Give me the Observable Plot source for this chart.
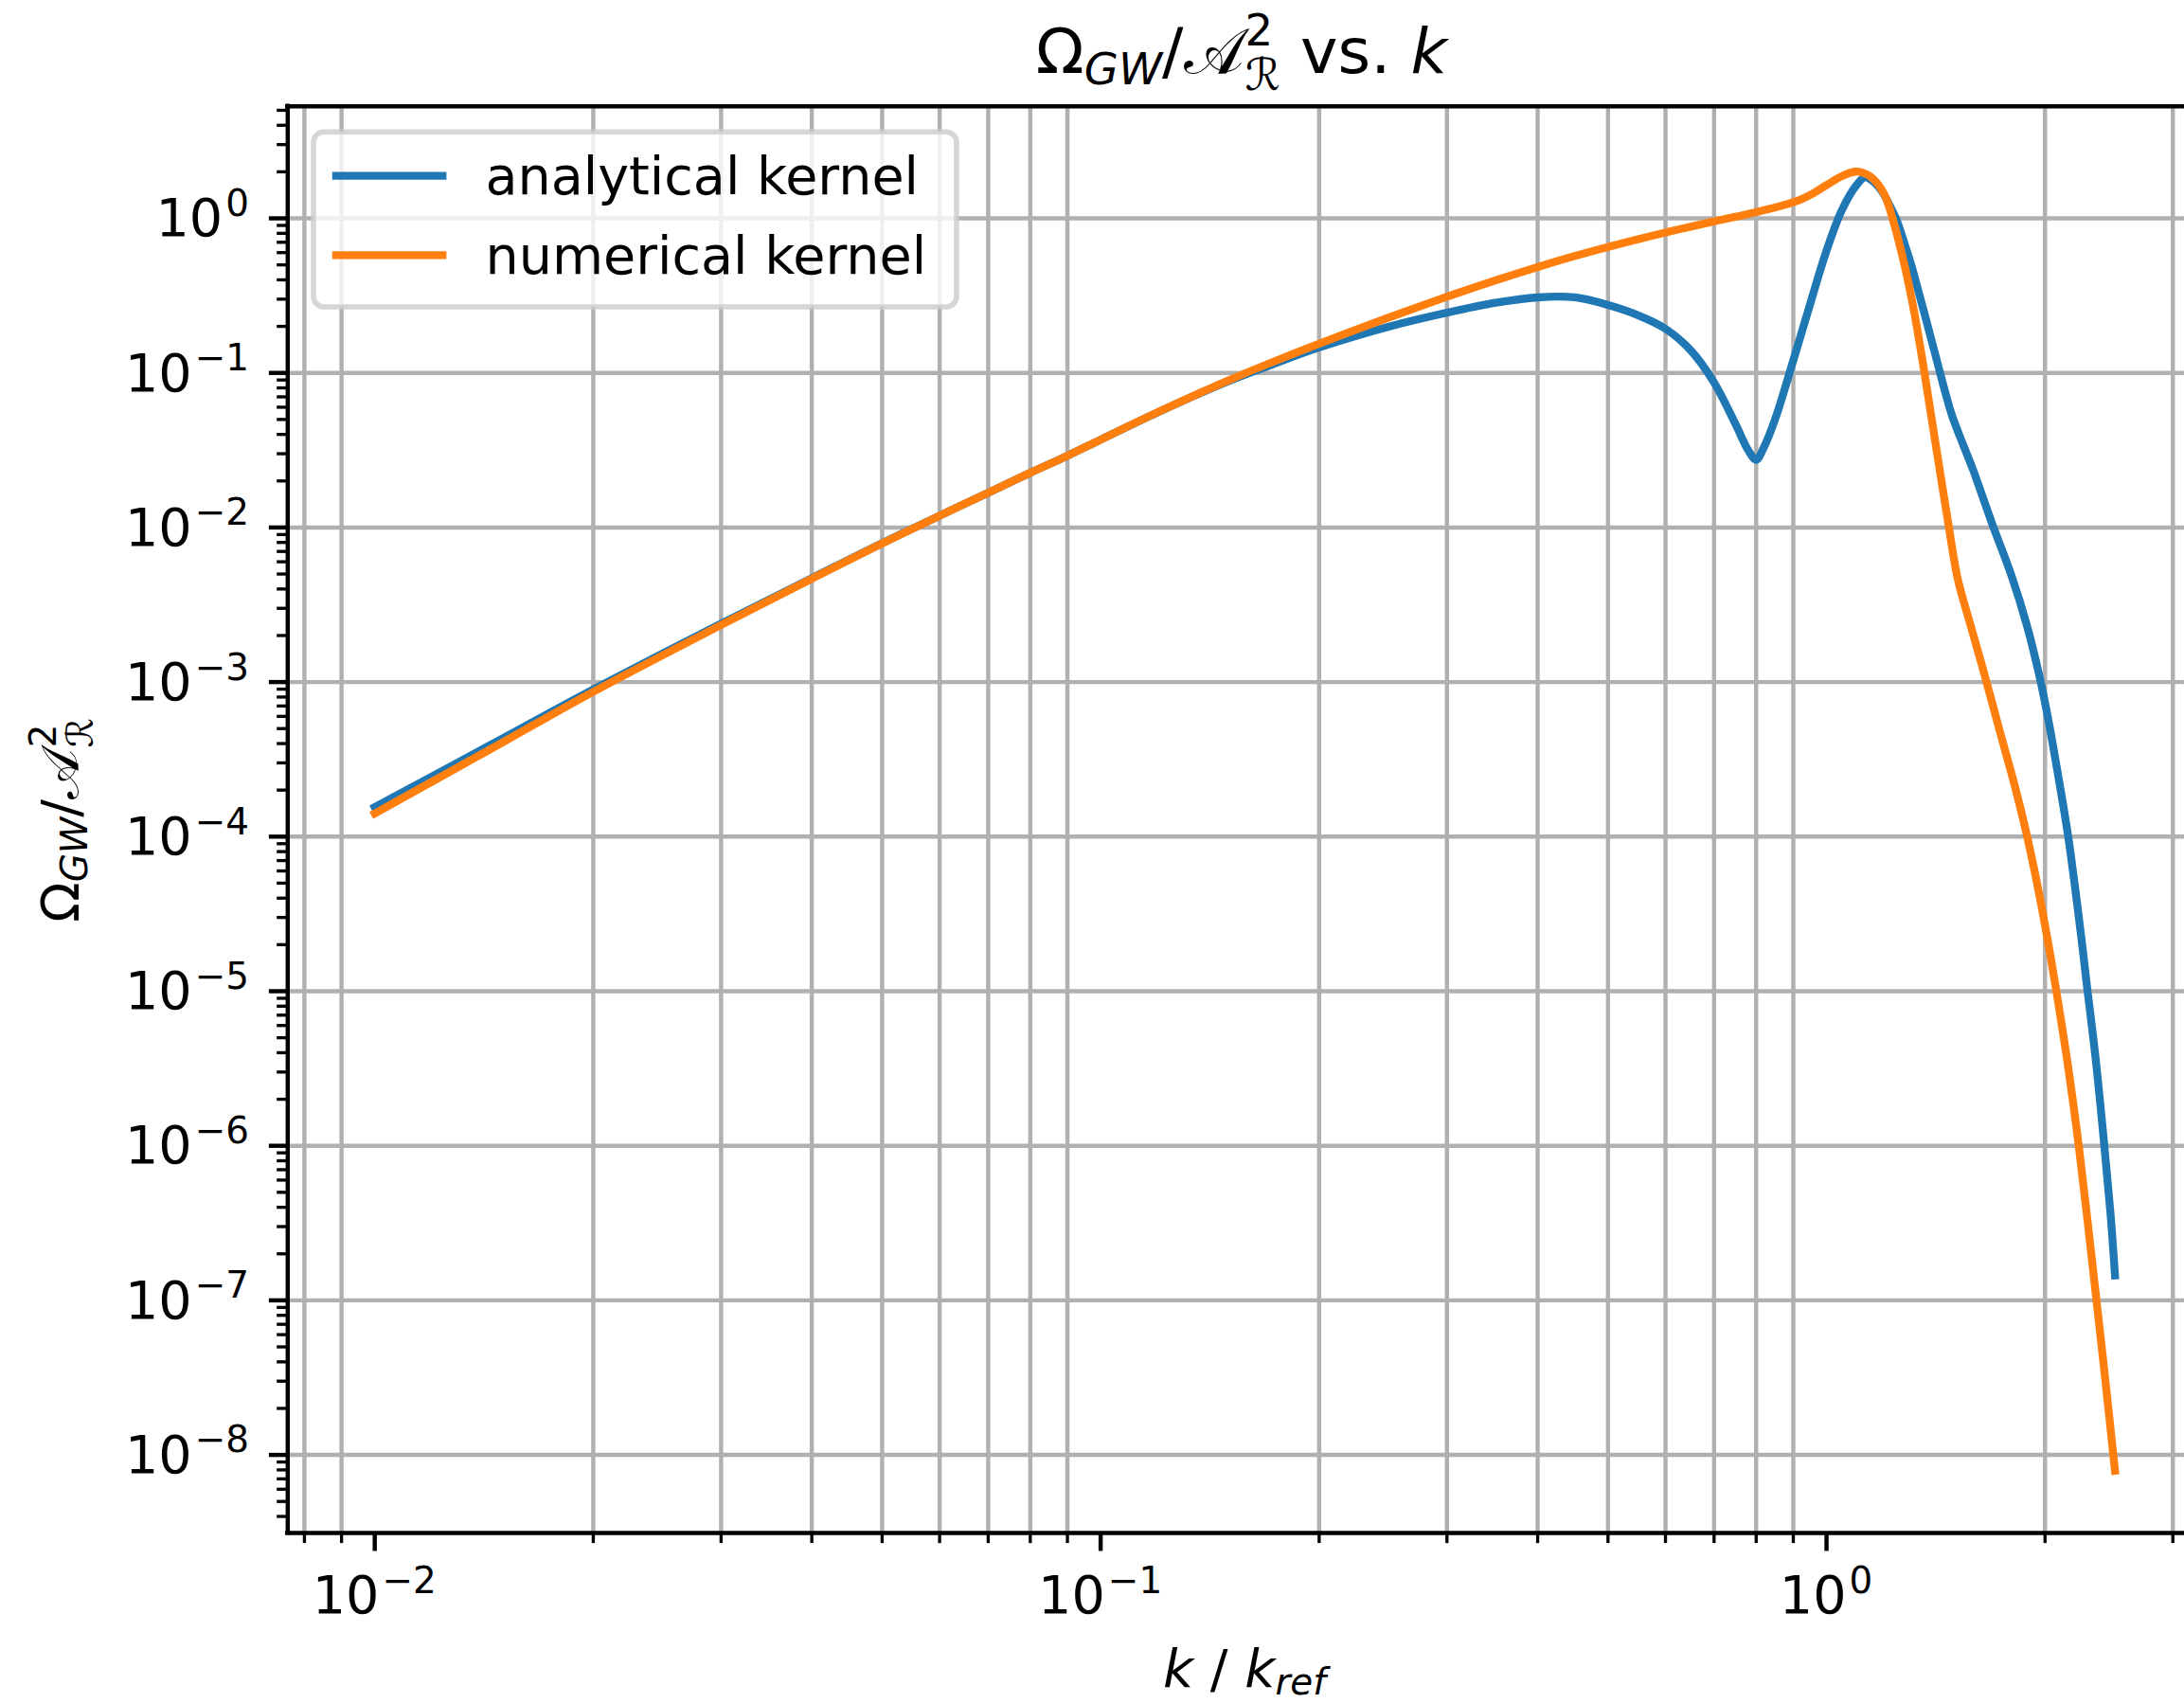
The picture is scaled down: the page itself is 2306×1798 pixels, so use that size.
<!DOCTYPE html>
<html>
<head>
<meta charset="utf-8">
<script src="https://cdn.jsdelivr.net/npm/d3@7"></script>
<script src="https://cdn.jsdelivr.net/npm/@observablehq/plot@0.6"></script>
<style>
html, body { margin: 0; padding: 0; background: #ffffff; }
#chart svg { display: block; }
</style>
</head>
<body>
<div id="chart"></div>
<script>
// ---------------- data ----------------
const seriesNames = ["analytical kernel", "numerical kernel"];
const seriesColors = ["#1f77b4", "#ff7f0e"];

const kAnalytical = [0.01,0.015,0.02,0.03,0.04,0.05,0.06,0.07,0.08,0.09,0.1,0.12,0.15,0.17,0.2,0.25,0.3,0.35,0.4,0.45,0.5,0.55,0.6,0.65,0.7,0.75,0.78,0.8,0.82,0.85,0.9,0.95,1.0,1.05,1.1,1.13,1.16,1.19,1.22,1.25,1.28,1.31,1.34,1.371,1.41,1.457,1.49,1.55,1.593,1.692,1.797,1.889,1.966,2.026,2.088,2.152,2.2,2.245,2.28,2.35,2.413,2.462,2.497];
const omegaAnalytical = [1.55e-4,4.32e-4,8.95e-4,2.39e-3,4.70e-3,7.92e-3,1.19e-2,1.68e-2,2.26e-2,2.91e-2,3.70e-2,5.57e-2,8.85e-2,0.1107,0.146,0.1995,0.245,0.284,0.308,0.308,0.275,0.236,0.193,0.140,0.0867,0.0462,0.0316,0.0274,0.0331,0.0505,0.1205,0.282,0.618,1.132,1.641,1.845,1.730,1.514,1.230,0.966,0.692,0.490,0.331,0.222,0.135,0.0753,0.0525,0.0324,0.0234,0.0105,4.92e-3,2.31e-3,1.08e-3,5.37e-4,2.39e-4,1.01e-4,4.68e-5,2.19e-5,1.17e-5,3.55e-6,1.02e-6,3.63e-7,1.45e-7];

const kNumerical = [0.01,0.015,0.02,0.03,0.04,0.05,0.06,0.07,0.08,0.09,0.1,0.12,0.15,0.17,0.2,0.25,0.3,0.35,0.4,0.45,0.5,0.6,0.7,0.8,0.88,0.92,0.96,1.0,1.05,1.095,1.12,1.15,1.2,1.24,1.27,1.29,1.32,1.358,1.4,1.435,1.472,1.516,1.578,1.643,1.727,1.816,1.889,1.965,2.018,2.067,2.15,2.229,2.339,2.416,2.497];
const omegaNumerical = [1.41e-4,4.07e-4,8.65e-4,2.34e-3,4.66e-3,7.89e-3,1.19e-2,1.68e-2,2.26e-2,2.91e-2,3.70e-2,5.58e-2,8.95e-2,0.1143,0.1545,0.229,0.311,0.397,0.484,0.570,0.653,0.809,0.955,1.096,1.230,1.318,1.455,1.641,1.875,2.004,1.977,1.862,1.445,0.910,0.589,0.4285,0.251,0.1148,0.0462,0.0222,0.0105,4.67e-3,2.36e-3,1.21e-3,5.09e-4,2.15e-4,1.01e-4,4.16e-5,2.11e-5,1.09e-5,3.34e-6,9.46e-7,1.32e-7,3.37e-8,7.9e-9];

const xMajorTicks = [0.01, 0.1, 1];
const xTickExponents = ["\u22122", "\u22121", "0"];
const xMinorTicks = [0.008,0.009,0.02,0.03,0.04,0.05,0.06,0.07,0.08,0.09,0.2,0.3,0.4,0.5,0.6,0.7,0.8,0.9,2,3];
const yMajorTicks = [1e-8,1e-7,1e-6,1e-5,1e-4,1e-3,1e-2,1e-1,1];
const yTickExponents = ["\u22128","\u22127","\u22126","\u22125","\u22124","\u22123","\u22122","\u22121","0"];
const yMinorMultipliers = [2,3,4,5,6,7,8,9];

const titleText = "vs.";
const xLabelParts = ["k", " / ", "k", "ref"];

// ---------------- build tables ----------------
const rowsA = kAnalytical.map((k, i) => ({k, omega: omegaAnalytical[i], series: seriesNames[0]}));
const rowsN = kNumerical.map((k, i) => ({k, omega: omegaNumerical[i], series: seriesNames[1]}));
const yMinorTicks = [];
for (let e = -9; e <= 0; e++) for (const m of yMinorMultipliers) {
  const v = m * Math.pow(10, e);
  if (v > 3.2e-9 && v < 5.3) yMinorTicks.push(v);
}

// ---------------- geometry (matplotlib @ 400 dpi) ----------------
const PT = 400 / 72;
const FS = 10 * PT;
const TFS = 12 * PT;
const W = 2306, H = 1798;
const X0 = 303.3, X1 = 2324.9, Y0 = 111.7, Y1 = 1618;
const FONT = "'DejaVu Sans', sans-serif";

const plot = Plot.plot({
  width: W,
  height: H,
  marginLeft: X0,
  marginRight: 0,
  marginTop: Y0,
  marginBottom: H - Y1,
  style: {background: "#ffffff", fontFamily: FONT},
  x: {type: "log", domain: [Math.pow(10, -2.1199), Math.pow(10, 0.5178)], range: [X0, X1], label: null},
  y: {type: "log", domain: [Math.pow(10, -8.505), Math.pow(10, 0.725)], range: [Y1, Y0], label: null},
  marks: [
    Plot.gridX({ticks: xMinorTicks, stroke: "#b0b0b0", strokeOpacity: 1, strokeWidth: 0.8 * PT}),
    Plot.gridY({ticks: yMajorTicks, stroke: "#b0b0b0", strokeOpacity: 1, strokeWidth: 0.8 * PT}),
    Plot.line(rowsA, {x: "k", y: "omega", stroke: seriesColors[0], strokeWidth: 1.5 * PT, curve: "catmull-rom", strokeLinecap: "square", strokeLinejoin: "round"}),
    Plot.line(rowsN, {x: "k", y: "omega", stroke: seriesColors[1], strokeWidth: 1.5 * PT, curve: "catmull-rom", strokeLinecap: "square", strokeLinejoin: "round"}),
    Plot.ruleX([Math.pow(10, -2.1199)], {stroke: "#000", strokeWidth: 0.8 * PT, strokeLinecap: "square"}),
    Plot.ruleY([Math.pow(10, -8.505)], {stroke: "#000", strokeWidth: 0.8 * PT, strokeLinecap: "square"}),
    Plot.ruleY([Math.pow(10, 0.725)], {stroke: "#000", strokeWidth: 0.8 * PT, strokeLinecap: "square"}),
    Plot.axisX({ticks: xMajorTicks, anchor: "bottom", tickSize: 3.5 * PT, strokeWidth: 0.8 * PT, tickFormat: () => "", label: null}),
    Plot.axisX({ticks: xMinorTicks, anchor: "bottom", tickSize: 2 * PT, strokeWidth: 0.6 * PT, tickFormat: () => "", label: null}),
    Plot.axisY({ticks: yMajorTicks, anchor: "left", tickSize: 3.5 * PT, strokeWidth: 0.8 * PT, tickFormat: () => "", label: null}),
    Plot.axisY({ticks: yMinorTicks, anchor: "left", tickSize: 2 * PT, strokeWidth: 0.6 * PT, tickFormat: () => "", label: null})
  ]
});

document.getElementById("chart").appendChild(plot);

// ---------------- text overlay (mathtext-like) ----------------
const root = d3.select(plot);
const ov = root.append("g").attr("class", "overlay").attr("text-anchor", "start");

function mathText(g, x, y, anchor, fs, runs, transform) {
  const t = g.append("text")
    .attr("x", x).attr("y", y)
    .attr("text-anchor", anchor)
    .attr("font-family", FONT)
    .attr("font-size", fs)
    .attr("fill", "#000");
  if (transform) t.attr("transform", transform);
  let cur = 0;
  for (const r of runs) {
    const sh = (r.shift || 0) * fs;
    const ts = t.append("tspan").text(r.t).attr("font-size", fs * (r.size || 1));
    const dy = cur - sh;
    if (dy) ts.attr("dy", dy);
    if (r.dx) ts.attr("dx", r.dx * fs);
    if (r.italic) ts.attr("font-style", "italic");
    if (r.family) ts.attr("font-family", r.family);
    cur = sh;
  }
  return t;
}

const xs = plot.scale("x");
const ys = plot.scale("y");

// x tick labels
xMajorTicks.forEach((v, i) => {
  mathText(ov, xs.apply(v), 1703, "middle", FS,
    [{t: "10"}, {t: xTickExponents[i], size: 0.7, shift: 0.385, dx: 0.055}]);
});
// y tick labels
yMajorTicks.forEach((v, i) => {
  mathText(ov, 263, ys.apply(v) + 19.3, "end", FS,
    [{t: "10"}, {t: yTickExponents[i], size: 0.7, shift: 0.385, dx: 0.055}]);
});

const CAL = "'DejaVu Sans', 'DejaVu Serif', serif";
function omegaRuns() {
  return [
    {t: "\u03A9"},
    {t: "GW", size: 0.7, italic: true, shift: -0.17},
    {t: "/"},
    {t: "\uD835\uDC9C", family: CAL},
    {t: "2", size: 0.7, shift: 0.44, dx: 0.03},
    {t: "\u211B", size: 0.7, shift: -0.27, dx: -0.445, family: CAL}
  ];
}

// title
mathText(ov, 1311, 77.3, "middle", TFS,
  omegaRuns().concat([{t: " " + titleText + " "}, {t: "k", italic: true}]));

// x label
mathText(ov, 1314, 1781, "middle", FS, [
  {t: xLabelParts[0], italic: true},
  {t: xLabelParts[1]},
  {t: xLabelParts[2], italic: true},
  {t: xLabelParts[3], italic: true, size: 0.7, shift: -0.14}
]);

// y label
mathText(ov, 0, 0, "middle", FS, omegaRuns(), "translate(83,866) rotate(-90)");

// legend
const lg = ov.append("g");
lg.append("rect")
  .attr("x", 331).attr("y", 139.3).attr("width", 679).attr("height", 184.7)
  .attr("rx", 11).attr("ry", 11)
  .attr("fill", "#ffffff").attr("fill-opacity", 0.8)
  .attr("stroke", "#cccccc").attr("stroke-opacity", 0.8)
  .attr("stroke-width", PT);
const legendY = [185.7, 269.3];
seriesNames.forEach((name, i) => {
  lg.append("line")
    .attr("x1", 350.8).attr("x2", 471.4)
    .attr("y1", legendY[i]).attr("y2", legendY[i])
    .attr("stroke", seriesColors[i]).attr("stroke-width", 1.5 * PT);
  lg.append("text")
    .attr("x", 512.5).attr("y", legendY[i] + 19.2)
    .attr("text-anchor", "start")
    .attr("font-family", FONT).attr("font-size", FS).attr("fill", "#000")
    .text(name);
});
</script>
</body>
</html>
